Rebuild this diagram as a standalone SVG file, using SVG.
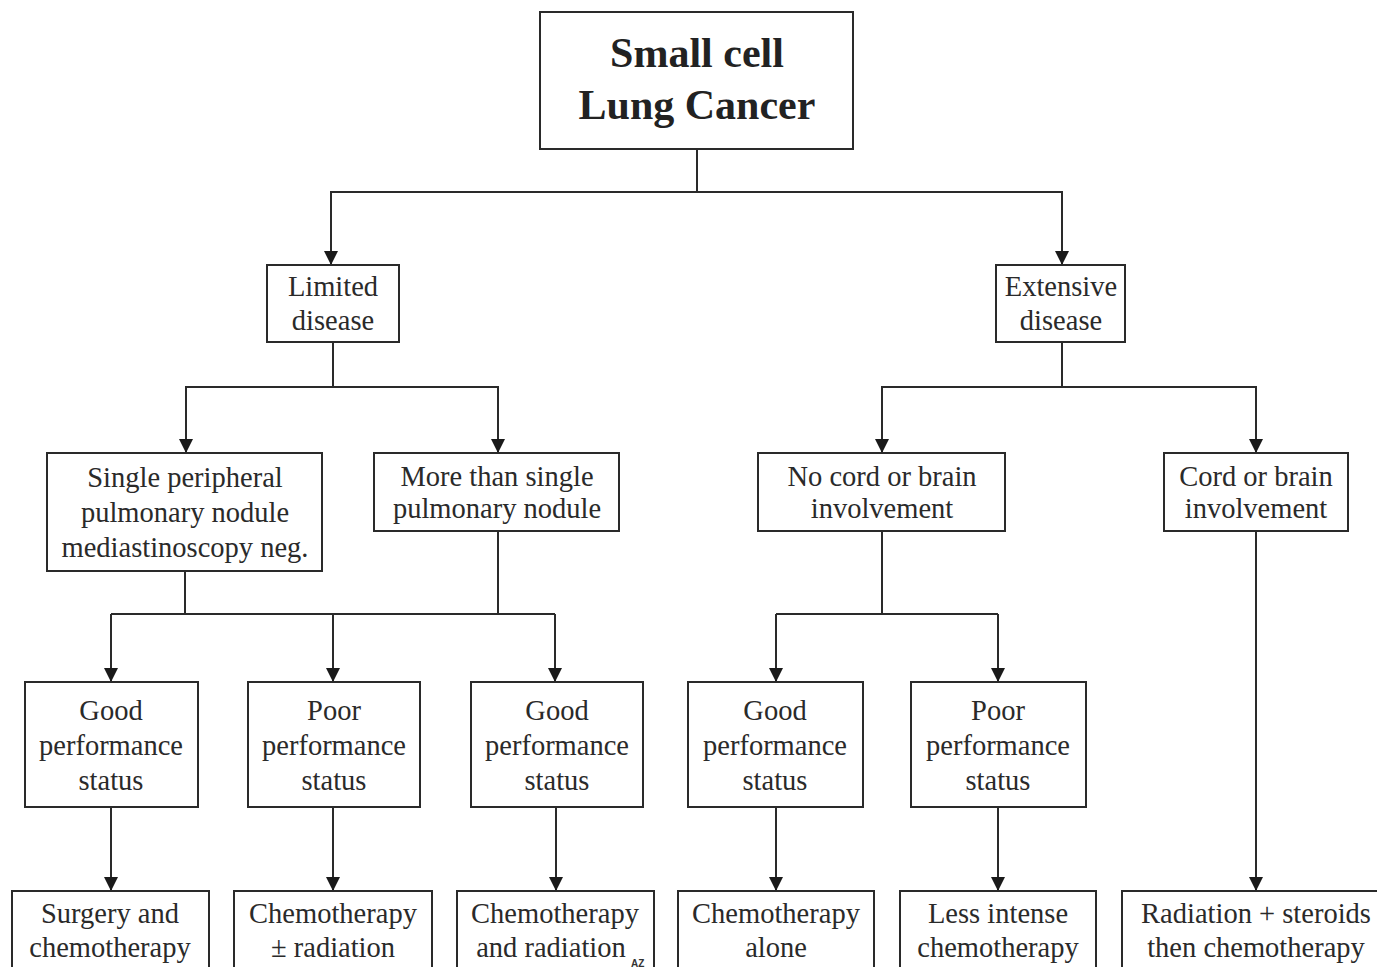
<svg xmlns="http://www.w3.org/2000/svg" width="1377" height="967" viewBox="0 0 1377 967">
<style>
.box{fill:#fff;stroke:#2a2a2a;stroke-width:2}
.t{font-family:"Liberation Serif","Times New Roman",serif;font-size:28.5px;fill:#2a2a2a;text-anchor:middle}
.title{font-family:"Liberation Serif","Times New Roman",serif;font-size:42px;font-weight:bold;fill:#222;text-anchor:middle}
.c{fill:none;stroke:#2a2a2a;stroke-width:2}
.wm{font-family:"Liberation Sans",Arial,sans-serif;font-size:10px;font-weight:bold;fill:#333}
</style>
<defs>
<marker id="arr" viewBox="0 0 14 14" refX="14" refY="7" markerWidth="14" markerHeight="14" markerUnits="userSpaceOnUse" orient="auto">
<path d="M0,0 L14,7 L0,14 z" fill="#1a1a1a"/>
</marker>
</defs>
<rect width="1377" height="967" fill="#fff"/>
<g id="connectors">
<path class="c" d="M697,149 V192"/>
<path class="c" d="M697,192 H331 V265" marker-end="url(#arr)"/>
<path class="c" d="M697,192 H1062 V265" marker-end="url(#arr)"/>
<path class="c" d="M333,342 V387"/>
<path class="c" d="M333,387 H186 V453" marker-end="url(#arr)"/>
<path class="c" d="M333,387 H498 V453" marker-end="url(#arr)"/>
<path class="c" d="M1062,342 V387"/>
<path class="c" d="M1062,387 H882 V453" marker-end="url(#arr)"/>
<path class="c" d="M1062,387 H1256 V453" marker-end="url(#arr)"/>
<path class="c" d="M185,571 V614"/>
<path class="c" d="M498,531 V614"/>
<path class="c" d="M111,614 H555"/>
<path class="c" d="M111,614 V682" marker-end="url(#arr)"/>
<path class="c" d="M333,614 V682" marker-end="url(#arr)"/>
<path class="c" d="M555,614 V682" marker-end="url(#arr)"/>
<path class="c" d="M882,531 V614"/>
<path class="c" d="M776,614 H998"/>
<path class="c" d="M776,614 V682" marker-end="url(#arr)"/>
<path class="c" d="M998,614 V682" marker-end="url(#arr)"/>
<path class="c" d="M1256,531 V891" marker-end="url(#arr)"/>
<path class="c" d="M111,807 V891" marker-end="url(#arr)"/>
<path class="c" d="M333,807 V891" marker-end="url(#arr)"/>
<path class="c" d="M556,807 V891" marker-end="url(#arr)"/>
<path class="c" d="M776,807 V891" marker-end="url(#arr)"/>
<path class="c" d="M998,807 V891" marker-end="url(#arr)"/>
</g>
<g id="root">
<rect class="box" x="540" y="12" width="313" height="137"/>
<text class="title" x="697" y="67">Small cell</text>
<text class="title" x="697" y="119">Lung Cancer</text>
</g>
<g id="limited">
<rect class="box" x="267" y="265" width="132" height="77"/>
<text class="t" x="333" y="296">Limited</text>
<text class="t" x="333" y="330">disease</text>
</g>
<g id="extensive">
<rect class="box" x="996" y="265" width="129" height="77"/>
<text class="t" x="1061" y="296">Extensive</text>
<text class="t" x="1061" y="330">disease</text>
</g>
<g id="single">
<rect class="box" x="47" y="453" width="275" height="118"/>
<text class="t" x="185" y="487">Single peripheral</text>
<text class="t" x="185" y="522">pulmonary nodule</text>
<text class="t" x="185" y="557">mediastinoscopy neg.</text>
</g>
<g id="more">
<rect class="box" x="374" y="453" width="245" height="78"/>
<text class="t" x="497" y="486">More than single</text>
<text class="t" x="497" y="518">pulmonary nodule</text>
</g>
<g id="nocord">
<rect class="box" x="758" y="453" width="247" height="78"/>
<text class="t" x="882" y="486">No cord or brain</text>
<text class="t" x="882" y="518">involvement</text>
</g>
<g id="cord">
<rect class="box" x="1164" y="453" width="184" height="78"/>
<text class="t" x="1256" y="486">Cord or brain</text>
<text class="t" x="1256" y="518">involvement</text>
</g>
<g id="good1">
<rect class="box" x="25" y="682" width="173" height="125"/>
<text class="t" x="111" y="720">Good</text>
<text class="t" x="111" y="755">performance</text>
<text class="t" x="111" y="790">status</text>
</g>
<g id="poor1">
<rect class="box" x="248" y="682" width="172" height="125"/>
<text class="t" x="334" y="720">Poor</text>
<text class="t" x="334" y="755">performance</text>
<text class="t" x="334" y="790">status</text>
</g>
<g id="good2">
<rect class="box" x="471" y="682" width="172" height="125"/>
<text class="t" x="557" y="720">Good</text>
<text class="t" x="557" y="755">performance</text>
<text class="t" x="557" y="790">status</text>
</g>
<g id="good3">
<rect class="box" x="688" y="682" width="175" height="125"/>
<text class="t" x="775" y="720">Good</text>
<text class="t" x="775" y="755">performance</text>
<text class="t" x="775" y="790">status</text>
</g>
<g id="poor2">
<rect class="box" x="911" y="682" width="175" height="125"/>
<text class="t" x="998" y="720">Poor</text>
<text class="t" x="998" y="755">performance</text>
<text class="t" x="998" y="790">status</text>
</g>
<g id="surgery">
<rect class="box" x="12" y="891" width="197" height="90"/>
<text class="t" x="110" y="923">Surgery and</text>
<text class="t" x="110" y="957">chemotherapy</text>
</g>
<g id="chemorad1">
<rect class="box" x="234" y="891" width="198" height="90"/>
<text class="t" x="333" y="923">Chemotherapy</text>
<text class="t" x="333" y="957">± radiation</text>
</g>
<g id="chemorad2">
<rect class="box" x="457" y="891" width="197" height="90"/>
<text class="t" x="555" y="923">Chemotherapy</text>
<text class="t" x="551" y="957">and radiation</text>
<text class="wm" x="631" y="967">AZ</text>
</g>
<g id="chemoalone">
<rect class="box" x="678" y="891" width="196" height="90"/>
<text class="t" x="776" y="923">Chemotherapy</text>
<text class="t" x="776" y="957">alone</text>
</g>
<g id="lessintense">
<rect class="box" x="900" y="891" width="196" height="90"/>
<text class="t" x="998" y="923">Less intense</text>
<text class="t" x="998" y="957">chemotherapy</text>
</g>
<g id="radsteroids">
<rect class="box" x="1122" y="891" width="270" height="90"/>
<text class="t" x="1256" y="923">Radiation + steroids</text>
<text class="t" x="1256" y="957">then chemotherapy</text>
</g>
</svg>
